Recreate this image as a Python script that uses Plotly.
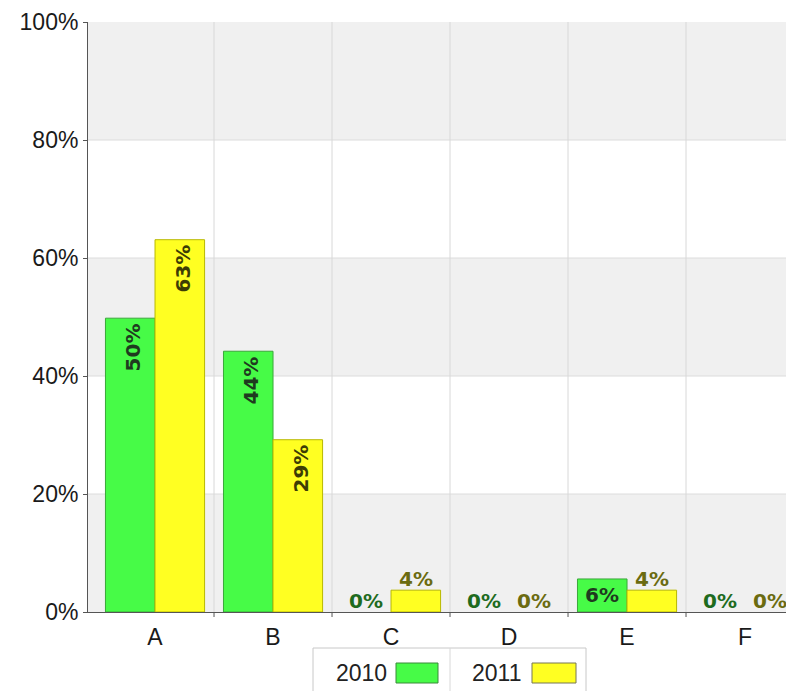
import plotly.graph_objects as go

# data
categories = ["A", "B", "C", "D", "E", "F"]
vals_2010 = [49.8, 44.2, 0.0, 0.0, 5.6, 0.0]
vals_2011 = [63.1, 29.2, 3.7, 0.0, 3.7, 0.0]
labels_2010 = ["50%", "44%", "0%", "0%", "6%", "0%"]
labels_2011 = ["63%", "29%", "4%", "0%", "4%", "0%"]
y_ticks = [0, 20, 40, 60, 80, 100]
y_ticktext = ["0%", "20%", "40%", "60%", "80%", "100%"]

GREEN = "#47fb47"
YELLOW = "#ffff22"
BAR_GAP = 0.16
HALF = (1 - BAR_GAP) / 4  # offset of each bar centre from the category centre

fig = go.Figure()
fig.add_trace(go.Bar(x=categories, y=vals_2010, name="2010",
                     marker=dict(color=GREEN,
                                 line=dict(color="#3aa83a",
                                           width=[1 if v > 0 else 0 for v in vals_2010]))))
fig.add_trace(go.Bar(x=categories, y=vals_2011, name="2011",
                     marker=dict(color=YELLOW,
                                 line=dict(color="#b8b800",
                                           width=[1 if v > 0 else 0 for v in vals_2011]))))

# alternating background bands
for lo in (0, 40, 80):
    fig.add_shape(type="rect", xref="paper", yref="y", x0=0, x1=1, y0=lo, y1=lo + 20,
                  fillcolor="#f0f0f0", line_width=0, layer="below")
for t in y_ticks[1:-1]:
    fig.add_shape(type="line", xref="paper", yref="y", x0=0, x1=1, y0=t, y1=t,
                  line=dict(color="#dcdcdc", width=1), layer="below")

# category boundaries: grid line inside the plot plus a short tick under the axis
for i in range(len(categories) - 1):
    fig.add_shape(type="line", xref="x", yref="paper", x0=i + 0.5, x1=i + 0.5, y0=0, y1=1,
                  line=dict(color="#d8d8d8", width=1), layer="below")
    fig.add_shape(type="line", xref="x", yref="paper", x0=i + 0.5, x1=i + 0.5,
                  y0=-5 / 590, y1=0, line=dict(color="#555", width=1))


def add_labels(vals, labels, offset, inside_color, outside_color):
    for i, (v, lab) in enumerate(zip(vals, labels)):
        x = i + offset
        font_in = dict(family="DejaVu Sans", size=20, color=inside_color, weight="bold")
        if v >= 10:
            fig.add_annotation(x=x, y=v, text=lab, textangle=-90, showarrow=False,
                               yanchor="top", yshift=-3, xshift=3, font=font_in)
        elif v >= 5:
            fig.add_annotation(x=x, y=v / 2, text=lab, showarrow=False, yanchor="middle",
                               font=font_in)
        else:
            fig.add_annotation(x=x, y=v, text=lab, showarrow=False, yanchor="bottom",
                               yshift=-3,
                               font=dict(family="DejaVu Sans", size=20, color=outside_color,
                                         weight="bold"))


add_labels(vals_2010, labels_2010, -HALF, "#1f3a1f", "#1e6b1e")
add_labels(vals_2011, labels_2011, HALF, "#3d3d05", "#6b6b10")

# hand-made legend at the bottom (page pixels -> paper coords of the 706x590 plot area)
def px_x(p):
    return (p - 88) / 706


def px_y(p):
    return -(p - 612) / 590


fig.add_shape(type="rect", xref="paper", yref="paper", x0=px_x(313), x1=px_x(586),
              y0=px_y(700), y1=px_y(648),
              line=dict(color="#c8c8c8", width=1), fillcolor="white")
fig.add_shape(type="line", xref="paper", yref="paper", x0=px_x(450), x1=px_x(450),
              y0=px_y(700), y1=px_y(648),
              line=dict(color="#d8d8d8", width=1))
for name, color, border, tx, sx0, sx1 in [("2010", GREEN, "#3a8a3a", 361, 396, 438),
                                          ("2011", YELLOW, "#777755", 496, 532, 576)]:
    fig.add_annotation(xref="paper", yref="paper", x=px_x(tx), y=px_y(673),
                       text=name, showarrow=False, xanchor="center", yanchor="middle",
                       font=dict(family="Liberation Sans", size=23, color="#222"))
    fig.add_shape(type="rect", xref="paper", yref="paper",
                  x0=px_x(sx0), x1=px_x(sx1), y0=px_y(683), y1=px_y(663),
                  fillcolor=color, line=dict(color=border, width=1))

# the page body adds an 8px offset, so the figure is 786x683 and margins are 8px smaller
fig.update_layout(
    width=786, height=683,
    margin=dict(l=80, r=0, t=14, b=79),
    paper_bgcolor="white", plot_bgcolor="white",
    barmode="group", bargap=BAR_GAP, bargroupgap=0,
    showlegend=False,
    font=dict(family="Liberation Sans", size=23, color="#1a1a1a"),
)
fig.update_xaxes(type="category", range=[-0.568, 5.415],
                 automargin=False, showgrid=False,
                 showline=True, linecolor="#555", linewidth=1,
                 ticks="", ticklabelstandoff=4,
                 tickfont=dict(size=23, color="#1a1a1a"))
fig.update_yaxes(range=[0, 100], tickvals=y_ticks, ticktext=y_ticktext,
                 automargin=False,
                 showgrid=False, zeroline=False,
                 showline=True, linecolor="#555", linewidth=1,
                 ticks="outside", ticklen=4, tickcolor="#555",
                 tickfont=dict(size=23, color="#1a1a1a"))

fig.write_html("out.html")
